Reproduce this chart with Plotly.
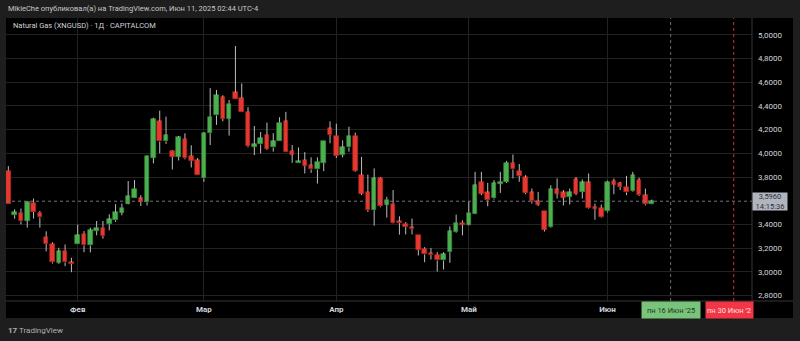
import plotly.graph_objects as go
import pandas as pd

# ---------------- data ----------------
dates = [d for d in pd.bdate_range("2025-01-17", "2025-06-11") if d != pd.Timestamp("2025-04-18")]

opens = [3.853, 3.478, 3.500, 3.432, 3.585, 3.500, 3.297, 3.237, 3.076, 3.180,
         3.081, 3.234, 3.322, 3.223, 3.344, 3.373, 3.403, 3.435, 3.500, 3.576,
         3.627, 3.619, 3.587, 3.963, 4.270, 4.100, 4.020, 3.971, 4.121, 3.977,
         3.943, 3.788, 4.170, 4.320, 4.475, 4.290, 4.515, 4.465, 4.350, 4.056,
         4.075, 4.155, 4.050, 4.100, 4.270, 4.020, 3.915, 3.943, 3.900, 3.864,
         3.920, 4.210, 4.150, 3.986, 4.050, 4.150, 3.816, 3.675, 3.520, 3.793,
         3.568, 3.576, 3.426, 3.407, 3.375, 3.314, 3.195, 3.158, 3.144, 3.096,
         3.166, 3.335, 3.415, 3.398, 3.486, 3.760, 3.670, 3.619, 3.746, 3.760,
         3.920, 3.853, 3.797, 3.670, 3.596, 3.517, 3.378, 3.695, 3.670, 3.633,
         3.780, 3.675, 3.754, 3.548, 3.540, 3.510, 3.766, 3.750, 3.720, 3.680,
         3.775, 3.647, 3.570]
highs = [3.892, 3.528, 3.534, 3.595, 3.619, 3.514, 3.342, 3.250, 3.203, 3.231,
         3.119, 3.398, 3.344, 3.373, 3.429, 3.429, 3.486, 3.571, 3.576, 3.766,
         3.774, 3.647, 3.980, 4.300, 4.360, 4.310, 4.025, 4.147, 4.169, 4.068,
         3.960, 4.180, 4.550, 4.535, 4.490, 4.450, 4.905, 4.590, 4.390, 4.230,
         4.180, 4.260, 4.170, 4.305, 4.350, 4.070, 4.050, 4.010, 3.966, 3.966,
         4.100, 4.270, 4.250, 4.110, 4.225, 4.175, 3.970, 3.820, 3.873, 3.800,
         3.633, 3.690, 3.469, 3.420, 3.449, 3.314, 3.209, 3.200, 3.166, 3.166,
         3.384, 3.483, 3.435, 3.590, 3.844, 3.844, 3.750, 3.774, 3.844, 3.937,
         3.990, 3.910, 3.816, 3.703, 3.675, 3.517, 3.731, 3.788, 3.690, 3.703,
         3.800, 3.780, 3.830, 3.576, 3.568, 3.770, 3.788, 3.760, 3.810, 3.844,
         3.795, 3.703, 3.610]
lows = [3.576, 3.449, 3.401, 3.373, 3.449, 3.373, 3.172, 3.070, 3.068, 3.048,
        2.997, 3.234, 3.166, 3.164, 3.308, 3.280, 3.350, 3.420, 3.477, 3.570,
        3.627, 3.556, 3.560, 3.915, 4.000, 4.080, 3.864, 3.940, 3.949, 3.881,
        3.816, 3.760, 4.070, 4.240, 4.270, 4.150, 4.455, 4.350, 4.050, 3.985,
        4.000, 4.030, 4.014, 4.100, 4.014, 3.920, 3.915, 3.830, 3.835, 3.745,
        3.850, 4.085, 3.960, 3.966, 4.014, 3.845, 3.647, 3.505, 3.390, 3.545,
        3.458, 3.407, 3.314, 3.316, 3.316, 3.138, 3.081, 3.104, 3.003, 3.020,
        3.076, 3.330, 3.308, 3.392, 3.486, 3.647, 3.553, 3.610, 3.666, 3.750,
        3.788, 3.760, 3.655, 3.576, 3.556, 3.340, 3.373, 3.619, 3.560, 3.568,
        3.647, 3.619, 3.534, 3.440, 3.458, 3.500, 3.655, 3.690, 3.647, 3.675,
        3.640, 3.560, 3.568]
closes = [3.576, 3.505, 3.426, 3.587, 3.505, 3.460, 3.234, 3.081, 3.172, 3.079,
          3.068, 3.308, 3.223, 3.350, 3.373, 3.302, 3.443, 3.505, 3.542, 3.638,
          3.703, 3.590, 3.977, 4.290, 4.100, 4.155, 3.970, 4.136, 3.958, 3.937,
          3.816, 4.175, 4.310, 4.490, 4.290, 4.420, 4.455, 4.350, 4.060, 4.075,
          4.127, 4.040, 4.100, 4.260, 4.014, 3.990, 3.935, 3.895, 3.864, 3.930,
          4.100, 4.155, 3.977, 4.050, 4.147, 3.853, 3.660, 3.520, 3.788, 3.553,
          3.610, 3.410, 3.412, 3.378, 3.361, 3.186, 3.147, 3.141, 3.096, 3.147,
          3.342, 3.415, 3.398, 3.500, 3.731, 3.660, 3.604, 3.746, 3.760, 3.920,
          3.864, 3.810, 3.666, 3.596, 3.568, 3.356, 3.695, 3.660, 3.627, 3.670,
          3.660, 3.754, 3.540, 3.534, 3.463, 3.760, 3.737, 3.717, 3.670, 3.816,
          3.647, 3.570, 3.596]

month_tick_dates = ["2025-02-03", "2025-03-03", "2025-04-01", "2025-05-01", "2025-06-02"]
month_tick_labels = ["Фев", "Мар", "Апр", "Май", "Июн"]
price_ticks = [2.8, 3.0, 3.2, 3.4, 3.8, 4.0, 4.2, 4.4, 4.6, 4.8, 5.0]
last_price = 3.596
last_time = "14:15:36"
marker_dates = ["2025-06-16", "2025-06-30"]
marker_labels = ["пн 16 Июн '25", "пн 30 Июн '2"]
title_text = "MikleChe опубликовал(а) на TradingView.com, Июн 11, 2025 02:44 UTC-4"
legend_text = "Natural Gas (XNGUSD) · 1Д · CAPITALCOM"

# ---------------- derived ----------------
idx = list(range(len(dates)))
date_pos = {d.strftime("%Y-%m-%d"): i for i, d in enumerate(dates)}
tick_pos = [date_pos[d] for d in month_tick_dates]
last_date = dates[-1]
def future_pos(d):
    n = len(pd.bdate_range(last_date, d)) - 1
    return idx[-1] + n
marker_pos = [future_pos(d) for d in marker_dates]

UP = "#4caf50"
DOWN = "#e5392f"
UP_EDGE = "#3a8f3d"
DOWN_EDGE = "#a82620"
WICK = "#bdbdbd"
FONT = "Roboto"

bases, heights, colors, edges = [], [], [], []
wx, wy = [], []
for i, o, h, l, c in zip(idx, opens, highs, lows, closes):
    top, bot = max(o, c), min(o, c)
    hgt = max(top - bot, 0.015)
    mid = (top + bot) / 2
    bases.append(mid - hgt / 2)
    heights.append(hgt)
    colors.append(UP if c >= o else DOWN)
    edges.append(UP_EDGE if c >= o else DOWN_EDGE)
    wx += [i, i, None, i, i, None]
    wy += [mid + hgt / 2, h, None, l, mid - hgt / 2, None]

fig = go.Figure()
fig.add_trace(go.Scatter(x=wx, y=wy, mode="lines", line=dict(color=WICK, width=1),
                         hoverinfo="skip", showlegend=False))
fig.add_trace(go.Bar(x=idx, y=heights, base=bases, width=0.72,
                     marker=dict(color=colors, line=dict(color=edges, width=0.6)),
                     showlegend=False, hoverinfo="skip"))

# plot area geometry in px
L, R, T, B = 6, 752, 18, 301
W, H = 800, 341
pw, ph = R - L, B - T
def px_x(x):
    return (x - L) / pw
def px_y(y):
    return (B - y) / ph

shapes = [
    dict(type="rect", xref="paper", yref="paper", x0=px_x(6), x1=px_x(793), y0=px_y(318), y1=px_y(18),
         fillcolor="#000000", line=dict(width=0), layer="below"),
    dict(type="line", xref="paper", yref="paper", x0=px_x(6), x1=px_x(793), y0=0, y1=0,
         line=dict(color="#363636", width=1)),
    dict(type="line", xref="paper", yref="paper", x0=1, x1=1, y0=px_y(318), y1=1,
         line=dict(color="#363636", width=1)),
    dict(type="line", xref="paper", yref="y", x0=0, x1=1, y0=last_price, y1=last_price,
         line=dict(color="#74777f", width=1, dash="dot")),
    dict(type="line", xref="x", yref="paper", x0=marker_pos[0], x1=marker_pos[0], y0=0, y1=1,
         line=dict(color="#6a6d76", width=1, dash="dot")),
    dict(type="line", xref="x", yref="paper", x0=marker_pos[1], x1=marker_pos[1], y0=0, y1=1,
         line=dict(color="#d0303a", width=1, dash="dot")),
]

annotations = [
    dict(text=title_text, xref="paper", yref="paper", x=px_x(6), y=px_y(9), xanchor="left",
         yanchor="middle", showarrow=False, font=dict(family=FONT, size=7.5, color="#c8c8c8")),
    dict(text=legend_text, xref="paper", yref="paper", x=px_x(11), y=px_y(26), xanchor="left",
         yanchor="middle", showarrow=False, font=dict(family=FONT, size=7.5, color="#d1d4dc")),
    dict(text=f"{last_price:.4f}".replace(".", ",") + "<br>" + last_time, xref="paper", yref="y",
         x=px_x(770), y=last_price, xanchor="center", yanchor="middle", showarrow=False,
         bgcolor="#b2b5be", width=34, height=17, borderpad=0,
         font=dict(family=FONT, size=7.5, color="#2a2e39")),
    dict(text=marker_labels[0], xref="x", yref="paper", x=marker_pos[0], y=px_y(310),
         xanchor="center", yanchor="middle", showarrow=False, bgcolor="#79c47b",
         width=56, height=14, borderpad=1, font=dict(family=FONT, size=7.5, color="#1b3a1c")),
    dict(text=marker_labels[1], xref="paper", yref="paper", x=px_x(705), y=px_y(310),
         xanchor="left", yanchor="middle", showarrow=False, bgcolor="#f23645",
         width=45, height=14, borderpad=1, align="left",
         font=dict(family=FONT, size=7.5, color="#ffe0e0")),
    dict(text="<b>17</b> TradingView", xref="paper", yref="paper", x=px_x(6), y=px_y(330),
         xanchor="left", yanchor="middle", showarrow=False,
         font=dict(family=FONT, size=8, color="#b0b0b0")),
]

fig.update_layout(
    width=W, height=H,
    margin=dict(l=L, r=W - R, t=T, b=H - B, pad=0),
    paper_bgcolor="#1e1e1e", plot_bgcolor="#000000",
    separators=", ",
    shapes=shapes, annotations=annotations,
    showlegend=False, bargap=0,
    xaxis=dict(range=[-0.37, 117.9], tickmode="array", tickvals=tick_pos, ticktext=month_tick_labels,
               showgrid=True, gridcolor="#222222", gridwidth=1, zeroline=False, showline=False,
               ticks="", ticklabelstandoff=2,
               tickfont=dict(family=FONT, size=8, color="#d1d4dc", weight="bold")),
    yaxis=dict(range=[2.754, 5.142], side="right", tickmode="array", tickvals=price_ticks,
               tickformat=".4f", showgrid=True, gridcolor="#222222", gridwidth=1,
               zeroline=False, showline=False, ticks="", ticklabelstandoff=5,
               tickfont=dict(family=FONT, size=8, color="#d1d4dc")),
)

fig.write_html("out.html")
